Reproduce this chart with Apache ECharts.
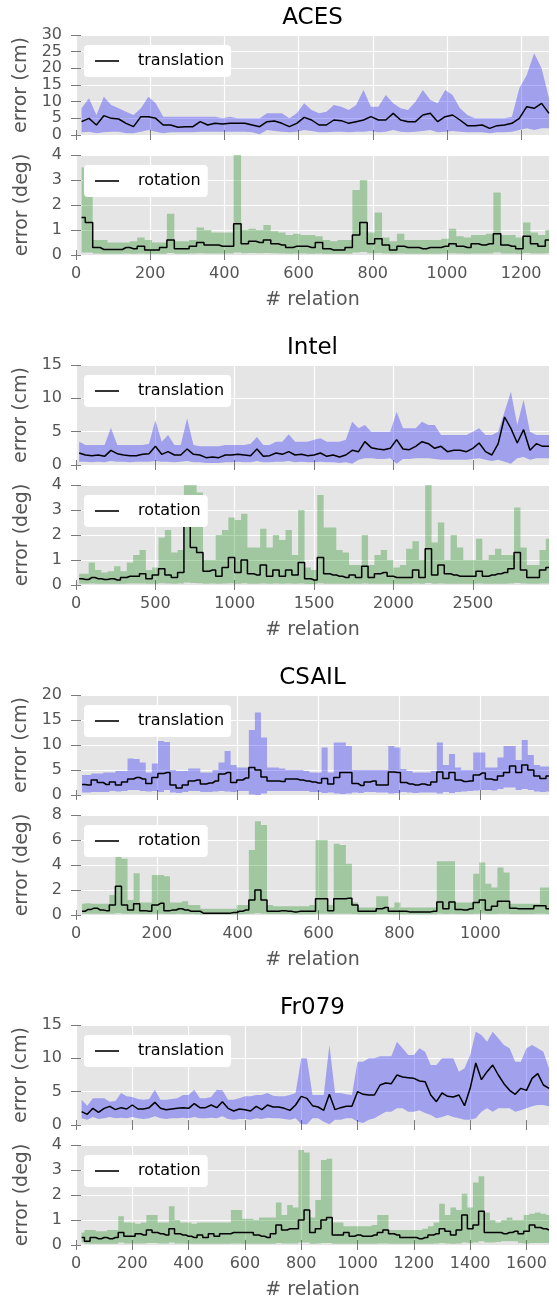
<!DOCTYPE html>
<html>
<head>
<meta charset="utf-8">
<script src="https://cdn.jsdelivr.net/npm/echarts@6/dist/echarts.min.js"></script>
<style>
  html, body { margin: 0; padding: 0; background: #ffffff; }
  #chart { width: 557px; height: 1302px; }
</style>
</head>
<body>
<div id="chart"></div>
<script>
// ---------------- ACES (relations sampled every 20, starting at 15) ----------------
const acesStart = 15, acesStep = 20;
const acesTransMean = [4, 5, 3, 5.8, 5, 4.8, 3.5, 2.5, 5.5, 5.5,
  5, 3, 3, 2.3, 2.5, 2.5, 4, 3, 3.5, 3.3,
  3.5, 3.5, 3.5, 3, 2.5, 4, 4.2, 3.5, 2.5, 3.5,
  5.3, 4.5, 3, 3, 4.5, 4.3, 3.5, 4, 4.5, 5.5,
  4.5, 4.5, 6.5, 4.5, 4, 4, 6, 6.5, 4, 5.5,
  6, 4.5, 2.8, 2.8, 3, 2, 2.8, 3, 3.5, 5,
  8.5, 8, 9.5, 6.5];
const acesTransHigh = [8, 11, 6, 11.5, 9, 8, 7, 6, 8, 11.5,
  9.5, 5.5, 5.5, 5.5, 5.5, 5.5, 5.5, 5.5, 5.5, 5,
  5.5, 5, 5, 5, 5, 6.5, 6.5, 6.5, 5, 6.5,
  9.5, 7.5, 6.5, 7, 9, 8.5, 7.5, 9, 13.5, 8.5,
  8.5, 12, 9.5, 8, 7.5, 10, 13.5, 10.5, 9.5, 13.5,
  12, 8, 6, 5, 5, 5, 5, 5, 5.5, 14,
  18, 24.5, 20, 11];
const acesTransLow = [0.8, 1, 0.5, 0.8, 1, 1, 0.5, 0.5, 1, 1.5,
  1, 0.5, 0.8, 0.8, 0.8, 0.8, 1, 1, 1, 1,
  1, 1, 1, 0.8, 0.2, 1.5, 1.2, 1, 0.8, 1,
  1.5, 1.2, 0.8, 0.8, 1, 1, 0.8, 1, 1, 1.2,
  0.8, 1, 1.5, 1, 0.8, 1, 1.2, 1.5, 0.8, 1,
  1.2, 1, 0.8, 0.8, 0.8, 0.5, 0.8, 0.8, 1, 1.5,
  2, 1.5, 2, 2];
const acesRotMean = [1.5, 1.3, 0.3, 0.22, 0.22, 0.22, 0.3, 0.25, 0.35, 0.2,
  0.2, 0.3, 0.6, 0.25, 0.25, 0.35, 0.5, 0.4, 0.4, 0.35,
  0.35, 1.25, 0.45, 0.55, 0.5, 0.6, 0.45, 0.4, 0.3, 0.35,
  0.35, 0.3, 0.5, 0.25, 0.2, 0.2, 0.3, 0.8, 1.3, 0.45,
  0.65, 0.4, 0.2, 0.35, 0.3, 0.3, 0.25, 0.3, 0.3, 0.35,
  0.45, 0.35, 0.3, 0.45, 0.4, 0.45, 0.85, 0.4, 0.35, 0.25,
  0.75, 0.45, 0.35, 0.6];
const acesRotHigh = [3.5, 2.5, 0.6, 0.6, 0.5, 0.5, 0.5, 0.55, 0.7, 0.6,
  0.5, 0.5, 1.65, 0.55, 0.55, 0.6, 1.1, 1.0, 0.9, 0.9,
  0.9, 4, 1.0, 1.05, 1.0, 1.2, 0.95, 0.9, 0.8, 0.85,
  0.8, 0.8, 0.75, 0.6, 0.55, 0.6, 0.6, 2.6, 3.0, 0.9,
  1.7, 0.7, 0.55, 0.85, 0.6, 0.6, 0.6, 0.6, 0.6, 0.65,
  1.05, 0.75, 0.7, 0.8, 0.8, 0.85, 2.5, 0.8, 0.8, 0.7,
  1.3, 0.9, 0.8, 1.0];
const acesRotLow = [0.1, 0.1, 0.06, 0.05, 0.05, 0.05, 0.06, 0.05, 0.06, 0.05,
  0.05, 0.05, 0.08, 0.05, 0.05, 0.06, 0.07, 0.06, 0.06, 0.06,
  0.06, 0.1, 0.07, 0.08, 0.07, 0.08, 0.07, 0.06, 0.05, 0.06,
  0.06, 0.05, 0.06, 0.05, 0.05, 0.05, 0.05, 0.1, 0.12, 0.07,
  0.08, 0.06, 0.05, 0.06, 0.05, 0.05, 0.05, 0.05, 0.05, 0.06,
  0.07, 0.06, 0.05, 0.06, 0.06, 0.06, 0.1, 0.06, 0.06, 0.05,
  0.08, 0.06, 0.06, 0.07];

// ---------------- Intel (relations sampled every 40, starting at 20) ----------------
const intelStart = 20, intelStep = 40;
const intelTransMean = [1.8, 1.5, 1.4, 1.5, 1.3, 2.2, 1.7, 1.5, 1.4, 1.4,
  1.6, 1.7, 2.8, 1.6, 2.0, 1.5, 1.5, 2.4, 1.6, 1.5,
  1.1, 1.2, 1.1, 1.5, 1.5, 1.6, 1.5, 1.4, 2.4, 1.3,
  1.4, 1.8, 1.6, 2.0, 1.5, 1.6, 1.4, 1.5, 1.8, 1.3,
  1.5, 1.2, 1.5, 2.2, 2.0, 3.5, 2.6, 2.4, 2.3, 2.5,
  3.8, 2.4, 2.3, 2.8, 3.5, 3.2, 2.5, 2.8, 2.0, 2.2,
  2.2, 2.0, 2.5, 3.3, 2.0, 1.5, 3.2, 7.2, 5.5, 3.3,
  5.3, 2.2, 3.2, 2.8, 2.8];
const intelTransHigh = [3.5, 3, 3, 3, 3, 5.6, 3, 3, 3, 3,
  3, 3.2, 6.7, 3.5, 4.5, 3, 3, 7, 3, 2.8,
  2.8, 2.8, 2.8, 3, 3, 3, 3, 3.2, 4.2, 3,
  3, 3.5, 3.5, 4.6, 3.5, 3.5, 3.5, 3.8, 4, 3.5,
  3.5, 3.5, 3.8, 6.5, 5.5, 6, 5, 5, 5, 5,
  8, 5.5, 5.5, 5.5, 6.5, 6, 6, 4.5, 4.5, 4.5,
  4.5, 4.5, 5, 5.5, 4.5, 4.5, 5, 8, 11, 6,
  9.8, 5, 4.5, 4.5, 4.5];
const intelTransLow = [0.5, 0.5, 0.4, 0.5, 0.4, 0.6, 0.5, 0.5, 0.4, 0.5,
  0.5, 0.5, 0.6, 0.5, 0.5, 0.4, 0.5, 0.6, 0.4, 0.4,
  0.3, 0.3, 0.3, 0.4, 0.4, 0.5, 0.4, 0.4, 0.6, 0.4,
  0.4, 0.5, 0.5, 0.6, 0.4, 0.5, 0.4, 0.4, 0.5, 0.4,
  0.4, 0.3, 0.4, 0.2, 0.8, 1.0, 1.0, 0.9, 0.9, 1.0,
  0.2, 0.9, 0.9, 1.0, 1.0, 1.0, 0.9, 0.8, 0.8, 0.8,
  0.8, 0.8, 0.9, 1.0, 0.8, 0.6, 0.8, 0.5, 0.2, 1.0,
  1.2, 0.8, 1.0, 1.0, 1.0];
const intelRotMean = [0.25, 0.22, 0.3, 0.25, 0.22, 0.25, 0.2, 0.3, 0.35, 0.35,
  0.45, 0.25, 0.4, 0.65, 0.4, 0.3, 0.5, 2.4, 1.5, 1.3,
  0.55, 0.6, 0.35, 0.7, 1.1, 0.5, 1.0, 0.45, 0.4, 0.8,
  0.35, 0.6, 0.35, 0.6, 0.4, 0.9, 0.25, 0.2, 1.1, 0.45,
  0.4, 0.35, 0.3, 0.4, 0.3, 0.75, 0.3, 0.45, 0.5, 0.35,
  0.3, 0.3, 0.3, 0.6, 0.3, 1.45, 0.4, 0.8, 0.45, 0.4,
  0.35, 0.35, 0.35, 0.55, 0.35, 0.4, 0.45, 0.5, 0.65, 1.3,
  0.6, 0.3, 0.3, 0.6, 0.7];
const intelRotHigh = [0.45, 0.45, 0.9, 0.6, 0.5, 0.55, 0.75, 0.55, 0.9, 1.2,
  1.4, 0.6, 0.7, 1.9, 2.2, 1.3, 1.4, 4, 4, 3.7,
  1.0, 1.0, 2.0, 2.2, 2.7, 2.6, 2.85, 1.5, 1.5, 2.25,
  1.5, 2.0, 1.8, 2.2, 1.2, 3.0, 0.7, 0.6, 3.6, 2.3,
  2.3, 1.4, 1.3, 0.8, 0.8, 2.0, 0.8, 1.2, 1.4, 1.0,
  0.7, 0.8, 1.45, 1.75, 1.0, 4, 1.7, 2.5, 1.0, 2.0,
  1.5, 1.0, 1.0, 1.85, 1.0, 1.2, 1.45, 1.2, 1.2, 3.1,
  1.5, 0.8, 0.8, 1.4, 1.85];
const intelRotLow = [0.05, 0.05, 0.06, 0.05, 0.05, 0.05, 0.05, 0.05, 0.06, 0.06,
  0.06, 0.05, 0.05, 0.07, 0.06, 0.05, 0.06, 0.1, 0.08, 0.07,
  0.05, 0.06, 0.05, 0.06, 0.07, 0.05, 0.07, 0.05, 0.05, 0.06,
  0.05, 0.06, 0.05, 0.06, 0.05, 0.06, 0.04, 0.04, 0.07, 0.05,
  0.05, 0.05, 0.05, 0.05, 0.05, 0.06, 0.05, 0.05, 0.05, 0.05,
  0.05, 0.05, 0.05, 0.06, 0.05, 0.08, 0.05, 0.06, 0.05, 0.05,
  0.05, 0.05, 0.05, 0.06, 0.05, 0.05, 0.05, 0.05, 0.06, 0.08,
  0.06, 0.05, 0.05, 0.06, 0.06];

// ---------------- CSAIL (relations sampled every 15, starting at 15) ----------------
const csailStart = 15, csailStep = 15;
const csailTransMean = [2.1, 2.0, 3.0, 2.5, 2.1, 2.6, 2.0, 2.6, 3.2, 3.5,
  3.2, 2.3, 3.5, 4.3, 4.5, 2.0, 1.4, 2.0, 2.8, 3.0,
  2.2, 2.4, 2.8, 4.2, 4.5, 2.5, 3.0, 3.4, 5.5, 5.0,
  3.6, 2.8, 2.8, 2.7, 3.2, 3.2, 3.0, 2.8, 2.6, 2.4,
  3.3, 2.2, 3.5, 4.5, 4.5, 2.3, 1.9, 2.6, 2.8, 2.0,
  2.0, 4.6, 4.5, 2.5, 2.2, 2.0, 2.2, 2.0, 2.6, 4.6,
  3.3, 4.5, 3.0, 2.7, 2.8, 4.0, 4.4, 3.2, 3.0, 3.8,
  4.5, 5.8, 4.5, 6.0, 5.0, 3.8, 3.3, 3.8];
const csailTransHigh = [4, 4, 4.3, 4.3, 4.5, 4.5, 4.8, 4.8, 7.3, 7.2,
  6.5, 4.5, 6.3, 10.8, 10.6, 5, 4.8, 4.8, 5.3, 5.3,
  4.5, 4.5, 5, 6.5, 8.8, 6, 5.5, 5.5, 13, 16.5,
  11.5, 5.5, 5.5, 5.3, 5, 5, 5, 4.8, 4.5, 4.5,
  9.5, 4.5, 10.5, 10.5, 9.8, 5, 5, 5, 5, 5,
  5, 9.8, 9.5, 5.2, 4.8, 4.5, 4.5, 4.5, 4.8, 10.5,
  6, 8.2, 5.5, 5, 5, 8.5, 8.5, 5.5, 5.5, 7.5,
  9.8, 9.8, 7, 11, 8, 6, 5.7, 5.7];
const csailTransLow = [0.5, 0.5, 0.6, 0.6, 0.6, 0.8, 0.7, 0.8, 1.0, 1.0,
  0.8, 0.7, 0.8, 0.6, 1.0, 0.5, 0.4, 0.6, 0.8, 0.8,
  0.6, 0.6, 0.7, 0.8, 0.7, 0.6, 0.8, 0.8, 0.1, 0.0,
  0.3, 0.8, 0.8, 0.8, 0.8, 0.8, 0.8, 0.8, 0.6, 0.6,
  0.4, 0.5, 0.3, 0.2, 0.3, 0.5, 0.4, 0.6, 0.6, 0.5,
  0.5, 0.3, 0.4, 0.6, 0.5, 0.4, 0.5, 0.5, 0.5, 0.3,
  0.6, 0.4, 0.6, 0.7, 0.8, 0.9, 1.0, 1.0, 0.9, 1.2,
  1.5, 1.5, 1.0, 1.2, 1.0, 0.7, 0.6, 0.7];
const csailRotMean = [0.3, 0.45, 0.55, 0.4, 0.35, 0.8, 2.3, 0.8, 0.4, 0.9,
  0.35, 0.3, 0.8, 0.95, 0.35, 0.4, 0.5, 0.4, 0.3, 0.3,
  0.15, 0.15, 0.15, 0.15, 0.15, 0.2, 0.3, 0.4, 1.2, 2.0,
  1.2, 0.3, 0.3, 0.35, 0.3, 0.25, 0.3, 0.3, 0.3, 1.3,
  1.3, 0.35, 1.3, 1.3, 1.35, 0.8, 0.3, 0.3, 0.3, 0.5,
  0.6, 0.3, 0.3, 0.3, 0.25, 0.25, 0.25, 0.25, 0.3, 1.05,
  0.5, 1.05, 0.45, 0.4, 0.5, 1.0, 1.2, 0.4, 0.7, 1.1,
  1.1, 0.55, 0.5, 0.5, 0.5, 0.75, 0.75, 0.5];
const csailRotHigh = [0.9, 0.95, 0.9, 0.9, 0.9, 1.6, 4.8, 4.5, 1.2, 3.35,
  1.0, 1.0, 3.2, 3.2, 3.1, 1.0, 1.0, 1.1, 0.8, 0.8,
  0.5, 0.5, 0.5, 0.5, 0.5, 0.5, 0.8, 0.8, 5.2, 7.5,
  7.2, 0.8, 0.7, 0.7, 0.7, 0.7, 0.7, 0.7, 0.8, 6.0,
  6.0, 0.8, 5.7, 5.6, 4.1, 1.0, 0.6, 0.6, 0.6, 1.5,
  1.5, 0.6, 1.0, 0.6, 0.6, 0.6, 0.6, 0.6, 0.6, 4.3,
  4.3, 4.3, 1.0, 1.0, 1.0, 3.3, 4.2, 2.5, 2.2, 3.8,
  3.4, 0.9, 0.9, 0.9, 0.9, 0.9, 2.2, 2.2];
const csailRotLow = [0.1, 0.1, 0.1, 0.1, 0.1, 0.1, 0.15, 0.1, 0.1, 0.1,
  0.08, 0.08, 0.1, 0.1, 0.08, 0.08, 0.1, 0.08, 0.08, 0.06,
  0.05, 0.05, 0.05, 0.05, 0.05, 0.05, 0.06, 0.08, 0.1, 0.15,
  0.1, 0.08, 0.08, 0.08, 0.08, 0.06, 0.06, 0.06, 0.06, 0.1,
  0.1, 0.08, 0.1, 0.1, 0.1, 0.08, 0.06, 0.06, 0.06, 0.08,
  0.08, 0.06, 0.06, 0.06, 0.06, 0.06, 0.06, 0.06, 0.06, 0.1,
  0.08, 0.1, 0.08, 0.08, 0.08, 0.1, 0.12, 0.08, 0.08, 0.1,
  0.1, 0.08, 0.08, 0.08, 0.08, 0.1, 0.1, 0.08];

// ---------------- Fr079 (relations sampled every 20, starting at 20) ----------------
const fr079Start = 20, fr079Step = 20;
const fr079TransMean = [2.0, 1.6, 2.5, 1.9, 2.5, 2.8, 2.3, 2.6, 2.4, 3.0,
  2.4, 2.4, 2.6, 3.4, 2.5, 2.3, 2.4, 2.5, 2.6, 2.5,
  3.2, 2.6, 2.6, 3.0, 2.6, 3.5, 2.5, 2.1, 2.4, 2.3,
  2.1, 2.8, 2.3, 3.0, 2.7, 2.7, 2.5, 2.2, 3.0, 4.3,
  4.0, 2.9, 2.7, 2.2, 4.6, 2.3, 2.6, 2.8, 2.8, 5.0,
  4.6, 4.5, 4.5, 6.0, 6.3, 6.2, 7.5, 7.2, 7.1, 7.0,
  6.6, 6.5, 4.5, 3.5, 4.8, 4.3, 4.2, 4.5, 2.9, 5.5,
  9.3, 6.8, 8.0, 9.0, 7.5, 6.2, 5.2, 4.6, 5.5, 5.2,
  7.0, 7.7, 6.0, 5.5];
const fr079TransHigh = [3.8, 2.9, 4.0, 4.0, 4.0, 3.5, 3.6, 4.8, 4.3, 4.2,
  3.9, 3.8, 3.9, 5.3, 3.8, 3.8, 3.9, 4.0, 4.5, 4.5,
  5.3, 4.0, 4.0, 4.2, 5.3, 5.2, 3.8, 3.8, 4.0, 4.3,
  4.3, 4.5, 4.5, 4.8, 4.4, 4.3, 4.3, 4.5, 4.8, 10.0,
  10.0, 4.5, 4.5, 4.5, 12.0, 4.8, 4.8, 4.6, 4.5, 9.5,
  9.5, 10.0, 10.0, 10.3, 10.3, 10.3, 12.5, 11.5, 10.5, 10.5,
  11.5, 11.0, 9.0, 9.0, 10.0, 10.0, 10.0, 8.0, 8.5, 10.5,
  14.0, 13.5, 12.5, 14.0, 13.0, 12.0, 11.5, 9.5, 9.5, 11.5,
  12.0, 11.5, 11.0, 8.5];
const fr079TransLow = [1.0, 0.8, 1.2, 0.9, 1.0, 1.2, 1.0, 1.1, 1.0, 1.2,
  1.0, 0.9, 1.0, 1.3, 1.0, 0.9, 1.0, 1.0, 1.1, 1.0,
  1.2, 1.0, 1.0, 1.1, 1.0, 1.3, 0.9, 0.8, 0.9, 0.9,
  0.8, 1.0, 0.9, 1.1, 1.0, 1.0, 0.9, 0.8, 1.0, 0.1,
  0.1, 1.0, 1.0, 0.5, 0.1, 0.8, 0.8, 1.0, 1.0, 0.5,
  0.3, 0.8, 1.0, 1.5, 2.0, 2.0, 2.5, 2.5, 2.0, 2.0,
  2.2, 1.8, 1.5, 1.0, 1.2, 1.5, 1.2, 1.0, 0.8, 0.8,
  1.0, 2.0, 2.5, 2.0, 2.5, 2.5, 2.5, 2.0, 2.2, 2.5,
  2.8, 3.0, 3.0, 2.8];
const fr079RotMean = [0.3, 0.15, 0.3, 0.25, 0.3, 0.25, 0.3, 0.5, 0.35, 0.35,
  0.45, 0.4, 0.6, 0.5, 0.45, 0.4, 0.65, 0.45, 0.4, 0.35,
  0.3, 0.4, 0.3, 0.45, 0.35, 0.45, 0.45, 0.5, 0.5, 0.5,
  0.5, 0.4, 0.35, 0.3, 0.45, 0.8, 0.6, 0.65, 0.65, 1.0,
  1.4, 0.5, 0.65, 1.0, 1.1, 0.4, 0.4, 0.5, 0.35, 0.4,
  0.35, 0.35, 0.4, 0.5, 0.6, 0.45, 0.4, 0.3, 0.3, 0.3,
  0.25, 0.3, 0.4, 0.45, 0.65, 0.55, 0.4, 0.6, 1.2, 0.65,
  0.8, 1.35, 0.5, 0.5, 0.5, 0.45, 0.5, 0.55, 0.45, 0.55,
  0.8, 0.7, 0.65, 0.6];
const fr079RotHigh = [0.5, 0.6, 0.6, 0.55, 0.55, 0.6, 0.6, 1.15, 0.9, 0.9,
  0.85, 0.9, 1.2, 1.2, 0.9, 0.9, 1.55, 1.0, 0.9, 0.9,
  0.85, 0.9, 0.9, 0.9, 0.9, 0.9, 0.9, 1.4, 1.4, 1.05,
  1.05, 1.0, 1.1, 1.1, 1.1, 1.7, 1.2, 1.6, 1.5, 3.8,
  3.7, 1.1, 1.8, 3.4, 3.45, 0.9, 0.9, 0.75, 0.75, 0.75,
  0.75, 0.75, 0.8, 1.2, 1.2, 0.6, 0.6, 0.6, 0.6, 0.6,
  0.6, 0.65, 0.75, 0.9, 1.65, 1.2, 1.5, 1.4, 2.05, 1.5,
  2.5, 2.75, 1.3, 1.0, 0.9, 1.0, 1.1, 1.0, 1.0, 1.2,
  1.25, 1.3, 1.25, 1.2];
const fr079RotLow = [0.1, 0.05, 0.05, 0.05, 0.05, 0.05, 0.05, 0.1, 0.06, 0.06,
  0.06, 0.06, 0.08, 0.08, 0.06, 0.06, 0.1, 0.06, 0.06, 0.05,
  0.05, 0.05, 0.05, 0.05, 0.05, 0.05, 0.05, 0.06, 0.06, 0.05,
  0.05, 0.05, 0.05, 0.05, 0.05, 0.08, 0.06, 0.06, 0.06, 0.1,
  0.1, 0.05, 0.06, 0.08, 0.08, 0.05, 0.05, 0.05, 0.05, 0.05,
  0.05, 0.05, 0.05, 0.06, 0.06, 0.05, 0.05, 0.05, 0.05, 0.05,
  0.05, 0.05, 0.05, 0.06, 0.08, 0.06, 0.05, 0.06, 0.1, 0.08,
  0.1, 0.15, 0.1, 0.1, 0.12, 0.15, 0.15, 0.15, 0.08, 0.06,
  0.08, 0.08, 0.08, 0.08];

// Tick positions on the relation axes
const acesXTicks = [0, 200, 400, 600, 800, 1000, 1200];
const intelXTicks = [0, 500, 1000, 1500, 2000, 2500];
const csailXTicks = [0, 200, 400, 600, 800, 1000];
const fr079XTicks = [0, 200, 400, 600, 800, 1000, 1200, 1400, 1600];

function positions(start, step, n) {
  const xs = [];
  for (let i = 0; i < n; i++) xs.push(start + step * i);
  return xs;
}

const runs = [
  { title: 'ACES', xs: positions(acesStart, acesStep, acesTransMean.length), xMax: 1275, xInt: 200, xTicks: acesXTicks,
    trans: [acesTransMean, acesTransLow, acesTransHigh], transMax: 30, transInt: 5, transStep: false,
    rot: [acesRotMean, acesRotLow, acesRotHigh], rotMax: 4, rotInt: 1 },
  { title: 'Intel', xs: positions(intelStart, intelStep, intelTransMean.length), xMax: 2980, xInt: 500, xTicks: intelXTicks,
    trans: [intelTransMean, intelTransLow, intelTransHigh], transMax: 15, transInt: 5, transStep: false,
    rot: [intelRotMean, intelRotLow, intelRotHigh], rotMax: 4, rotInt: 1 },
  { title: 'CSAIL', xs: positions(csailStart, csailStep, csailTransMean.length), xMax: 1170, xInt: 200, xTicks: csailXTicks,
    trans: [csailTransMean, csailTransLow, csailTransHigh], transMax: 20, transInt: 5, transStep: true,
    rot: [csailRotMean, csailRotLow, csailRotHigh], rotMax: 8, rotInt: 2 },
  { title: 'Fr079', xs: positions(fr079Start, fr079Step, fr079TransMean.length), xMax: 1680, xInt: 200, xTicks: fr079XTicks,
    trans: [fr079TransMean, fr079TransLow, fr079TransHigh], transMax: 15, transInt: 5, transStep: false,
    rot: [fr079RotMean, fr079RotLow, fr079RotHigh], rotMax: 4, rotInt: 1 }
];

// ---------------- layout & styling ----------------
const FONT = 'DejaVu Sans';
const LEFT = 76, RIGHT = 8, PANEL_H = 100, PANEL_GAP = 20, BLOCK = 330, FIRST_TOP = 35;
const TICK_COLOR = '#7a7a7a', LABEL_COLOR = '#555555';
const BAND_BLUE = 'rgba(0, 0, 255, 0.3)', BAND_GREEN = 'rgba(0, 128, 0, 0.3)';

const grids = [], xAxes = [], yAxes = [], series = [], legends = [], titles = [];

// min/max envelope as one polygon; when stepped, each sample holds its value
// over half a sampling interval on either side
function bandRenderer(xs, lo, hi, color, stepped) {
  return function (params, api) {
    const n = xs.length, half = (xs[1] - xs[0]) / 2;
    const pts = [];
    if (stepped) {
      const l = i => Math.max(xs[0], xs[i] - half);
      const r = i => Math.min(xs[n - 1], xs[i] + half);
      for (let i = 0; i < n; i++) {
        pts.push(api.coord([l(i), hi[i]]));
        pts.push(api.coord([r(i), hi[i]]));
      }
      for (let i = n - 1; i >= 0; i--) {
        pts.push(api.coord([r(i), lo[i]]));
        pts.push(api.coord([l(i), lo[i]]));
      }
    } else {
      for (let i = 0; i < n; i++) pts.push(api.coord([xs[i], hi[i]]));
      for (let i = n - 1; i >= 0; i--) pts.push(api.coord([xs[i], lo[i]]));
    }
    return { type: 'polygon', shape: { points: pts }, style: { fill: color }, silent: true };
  };
}

function addPanel(run, kind, top) {
  const g = grids.length;
  const isRot = kind === 'rot';
  const [mean, lo, hi] = run[kind];
  const yMax = isRot ? run.rotMax : run.transMax;
  const yInt = isRot ? run.rotInt : run.transInt;
  const stepped = isRot || run.transStep;
  const name = isRot ? 'rotation' : 'translation';

  grids.push({ left: LEFT, right: RIGHT, top: top, height: PANEL_H, show: true,
    backgroundColor: '#e5e5e5', borderWidth: 0 });

  const tickStyle = { show: true, length: 5, inside: false, lineStyle: { color: TICK_COLOR, width: 1 } };
  const xBase = { type: 'value', gridIndex: g, min: 0, max: run.xMax, interval: run.xInt,
    axisLine: { show: false } };

  xAxes.push(Object.assign({}, xBase, {
    position: 'bottom',
    axisTick: Object.assign({}, tickStyle, { customValues: run.xTicks }),
    axisLabel: { show: isRot, customValues: run.xTicks, color: LABEL_COLOR, fontSize: 16,
      fontFamily: FONT, margin: 11, formatter: v => String(v) },
    splitLine: { show: true, lineStyle: { color: '#ffffff', width: 1.2 } },
    name: isRot ? '# relation' : '', nameLocation: 'middle', nameGap: 36,
    nameTextStyle: { color: LABEL_COLOR, fontSize: 19, fontFamily: FONT }
  }));
  xAxes.push(Object.assign({}, xBase, {
    position: 'top',
    axisTick: Object.assign({}, tickStyle, { customValues: run.xTicks }),
    axisLabel: { show: false }, splitLine: { show: false }
  }));

  const yBase = { type: 'value', gridIndex: g, min: 0, max: yMax, interval: yInt,
    axisLine: { show: false } };
  yAxes.push(Object.assign({}, yBase, {
    position: 'left',
    axisTick: tickStyle,
    axisLabel: { color: LABEL_COLOR, fontSize: 16, fontFamily: FONT, margin: 14 },
    splitLine: { show: true, lineStyle: { color: '#ffffff', width: 1.2 } },
    name: isRot ? 'error (deg)' : 'error (cm)', nameLocation: 'middle', nameGap: 44,
    nameTextStyle: { color: LABEL_COLOR, fontSize: 19, fontFamily: FONT }
  }));
  yAxes.push(Object.assign({}, yBase, {
    position: 'right', axisTick: tickStyle, axisLabel: { show: false }, splitLine: { show: false }
  }));

  const xi = 2 * g, yi = 2 * g;
  series.push({
    type: 'custom', name: name + ' range', xAxisIndex: xi, yAxisIndex: yi, clip: true,
    data: [[run.xs[0], lo[0]]], encode: { x: 0, y: 1 }, z: 2,
    renderItem: bandRenderer(run.xs, lo, hi, isRot ? BAND_GREEN : BAND_BLUE, stepped)
  });
  series.push({
    type: 'line', name: name, xAxisIndex: xi, yAxisIndex: yi, z: 3,
    data: run.xs.map((x, i) => [x, mean[i]]),
    step: stepped ? 'middle' : false,
    showSymbol: false, symbol: 'none', itemStyle: { color: '#000000' },
    lineStyle: { color: '#000000', width: 1.5 }
  });

  legends.push({
    data: [name], left: 84, top: top + 10, orient: 'horizontal',
    backgroundColor: '#ffffff', borderRadius: 4, padding: [8, 7, 8, 11],
    icon: 'rect', itemWidth: 24, itemHeight: 1.6, selectedMode: false,
    textStyle: { fontSize: 16, color: '#000000', fontFamily: FONT, padding: [0, 0, 0, 14] }
  });
}

runs.forEach((run, k) => {
  const top = FIRST_TOP + k * BLOCK;
  addPanel(run, 'trans', top);
  addPanel(run, 'rot', top + PANEL_H + PANEL_GAP);
  titles.push({
    type: 'text', x: LEFT + (557 - LEFT - RIGHT) / 2, y: top - 5,
    style: { text: run.title, textAlign: 'center', textVerticalAlign: 'bottom',
      fontSize: 23, fontFamily: FONT, fill: '#000000' }
  });
});

const chart = echarts.init(document.getElementById('chart'), null, { renderer: 'canvas' });
chart.setOption({
  animation: false,
  backgroundColor: '#ffffff',
  textStyle: { fontFamily: FONT },
  grid: grids,
  xAxis: xAxes,
  yAxis: yAxes,
  legend: legends,
  graphic: titles,
  series: series
});
</script>
</body>
</html>
